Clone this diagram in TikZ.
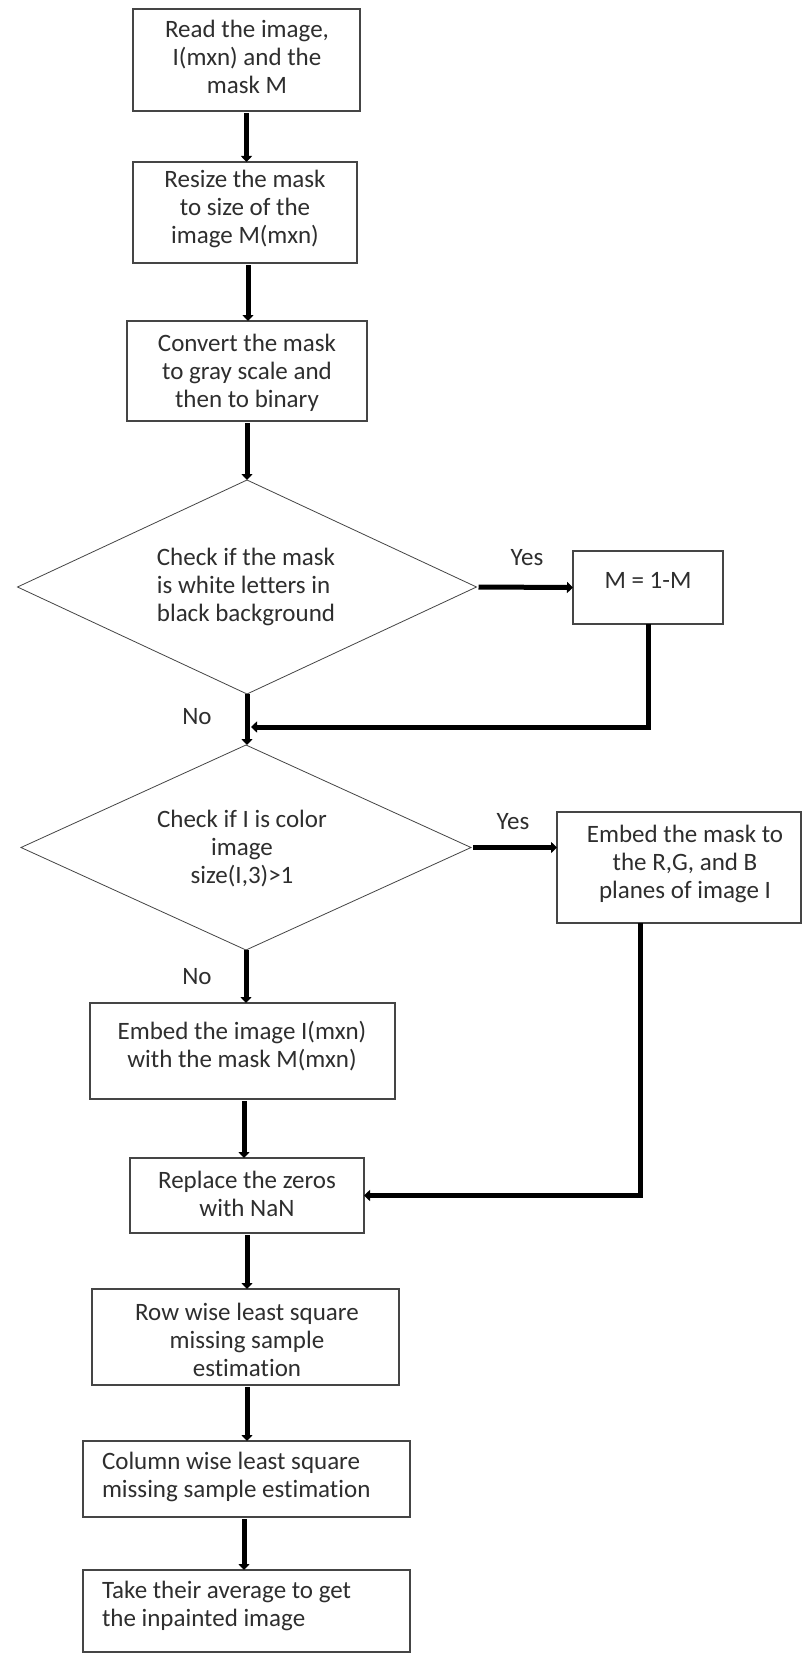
\documentclass[tikz,border=0pt]{standalone}
\usepackage{fontspec}
\setmainfont{Carlito}[Ligatures=NoCommon]
\usetikzlibrary{arrows.meta,shapes.geometric}
\definecolor{boxgray}{HTML}{454545}
\definecolor{txt}{HTML}{2E2E2E}
\begin{document}
\begin{tikzpicture}[x=1pt,y=-1pt,
  every node/.style={inner sep=0pt, outer sep=0pt},
  box/.style={draw=boxgray, line width=1.3pt, rectangle},
  dia/.style={draw=boxgray, line width=0.8pt, diamond},
  lbl/.style={text=txt, font=\fontsize{25}{28}\selectfont},
  arr/.style={line width=5pt, -{Triangle[length=6pt,width=11pt]}, shorten <=2pt},
  link/.style={line width=5pt}
]
\useasboundingbox[fill=white] (0,0) rectangle (803,1653);

% boxes
\node[box, minimum width=227pt, minimum height=102pt] (b1) at (246.5,60) {};
\node[box, minimum width=224pt, minimum height=101pt] (b2) at (245,212.5) {};
\node[box, minimum width=240pt, minimum height=100pt] (b3) at (247,371) {};
\node[dia, minimum width=459pt, minimum height=214pt] (d1) at (247,587) {};
\node[box, minimum width=150pt, minimum height=73pt] (m) at (648,587.5) {};
\node[dia, minimum width=450pt, minimum height=205pt] (d2) at (246,847.5) {};
\node[box, minimum width=244pt, minimum height=111pt] (em) at (679,867.5) {};
\node[box, minimum width=305pt, minimum height=96pt] (ei) at (242.5,1051) {};
\node[box, minimum width=234pt, minimum height=75pt] (rp) at (247,1195.5) {};
\node[box, minimum width=307pt, minimum height=96pt] (rw) at (245.5,1337) {};
\node[box, minimum width=327pt, minimum height=76pt] (cl) at (246.5,1479) {};
\node[box, minimum width=327pt, minimum height=82pt] (tk) at (246.5,1611) {};

% texts
\node[lbl, align=center] (t1) at (247,57) {Read the image,\\I(mxn) and the\\mask M};
\node[lbl, align=center] (t2) at (245,209) {Resize the mask\\to size of the\\image M(mxn)};
\node[lbl, align=center] (t3) at (247,373) {Convert the mask\\to gray scale and\\then to binary};
\node[lbl, align=left] (t4) at (246,587) {Check if the mask\\is white letters in\\black background};
\node[lbl] (t5) at (648,580) {M = 1-M};
\node[lbl, align=center] (t6) at (242,849) {Check if I is color\\image\\size(I,3)>1};
\node[lbl, align=center] (t7) at (685,864) {Embed the mask to\\the R,G, and B\\planes of image I};
\node[lbl, align=center] (t8) at (242,1046) {Embed the image I(mxn)\\with the mask M(mxn)};
\node[lbl, align=center] (t9) at (247,1194) {Replace the zeros\\with NaN};
\node[lbl, align=center] (t10) at (247,1340) {Row wise least square\\missing sample\\estimation};
\node[lbl, align=left, anchor=west] (t11) at (102,1477) {Column wise least square\\missing sample estimation};
\node[lbl, align=left, anchor=west] (t12) at (102,1606) {Take their average to get\\the inpainted image};

% yes / no labels
\node[lbl] (y1) at (527,558) {Yes};
\node[lbl] (n1) at (197,717) {No};
\node[lbl] (y2) at (513,822) {Yes};
\node[lbl] (n2) at (197,977) {No};

% helper coordinates
\coordinate (mj) at (251,727);
\coordinate (emout) at (640,923);

% connectors
\draw[arr] (b1.south) -- (b1.south |- b2.north);
\draw[arr] (b2.south -| 248,0) -- (248,0 |- b3.north);
\draw[arr] (b3.south) -- (d1.north);
\draw[arr] (d1.east) -- (m.west);
\draw[arr, shorten <=0pt] (m.south) |- (mj);
\draw[arr, shorten <=0pt] (d1.south) -- (d1.south |- d2.north);
\draw[arr] (d2.east) -- (d2.east -| em.west);
\draw[arr, shorten <=0pt] (d2.south) -- (d2.south |- ei.north);
\draw[arr] (ei.south -| 244,0) -- (244,0 |- rp.north);
\draw[arr] (rp.south) -- (rp.south |- rw.north);
\draw[arr] (rw.south -| 247,0) -- (247,0 |- cl.north);
\draw[arr] (cl.south -| 244,0) -- (244,0 |- tk.north);
\draw[arr, shorten <=0pt] (emout) |- (rp.east);
\end{tikzpicture}
\end{document}
